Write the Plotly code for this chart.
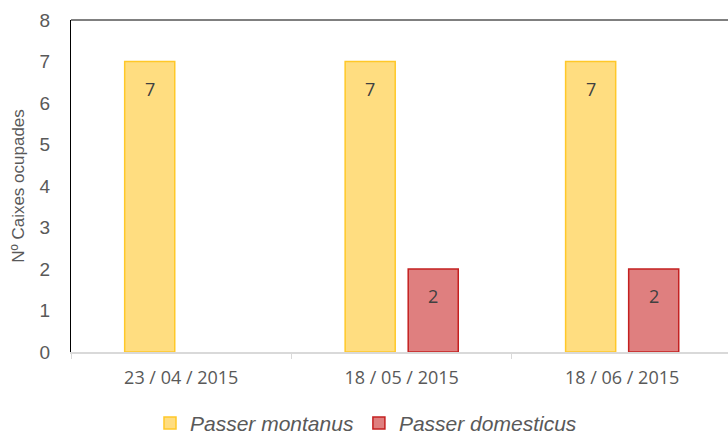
import plotly.graph_objects as go

categories = ["23 / 04 / 2015", "18 / 05 / 2015", "18 / 06 / 2015"]
montanus = [7, 7, 7]
domesticus = [None, 2, 2]
y_ticks = [0, 1, 2, 3, 4, 5, 6, 7, 8]

fig = go.Figure()
fig.add_trace(go.Bar(
    x=categories, y=montanus, name="Passer montanus",
    marker=dict(color="#FFDD80", line=dict(color="#FFC828", width=1.5)),
))
fig.add_trace(go.Bar(
    x=categories, y=domesticus, name="Passer domesticus",
    marker=dict(color="#DF7F7F", line=dict(color="#C42020", width=1.5)),
))

annotations = []
for series, shift in ((montanus, -31.5), (domesticus, 31.5)):
    for cat, val in zip(categories, series):
        if val is None:
            continue
        annotations.append(dict(x=cat, y=val, xref="x", yref="y", text=str(val), showarrow=False,
                                xshift=shift, yshift=-27, yanchor="middle",
                                font=dict(family="Open Sans", size=18, color="#404040")))

fig.update_layout(
    width=728, height=437,
    margin=dict(l=71, r=0, t=20, b=85, autoexpand=False),
    paper_bgcolor="white", plot_bgcolor="white",
    barmode="group", bargap=0.428, bargroupgap=0.206,
    font=dict(family="Liberation Sans", color="#595959"),
    legend=dict(orientation="h", x=0.449, xanchor="center", y=-0.215, yanchor="middle",
                font=dict(family="Liberation Sans", size=21, color="#595959", style="italic"),
                itemwidth=30, traceorder="normal"),
    xaxis=dict(range=[-0.5, 2.48], showline=True, linecolor="#D9D9D9", linewidth=2,
               ticks="outside", tickson="boundaries", ticklen=5, tickcolor="#D9D9D9",
               tickfont=dict(family="Open Sans", size=18, color="#595959"),
               ticklabelstandoff=8, showgrid=False, zeroline=False, automargin=False),
    yaxis=dict(range=[0, 8], tickvals=y_ticks, showline=True, linecolor="black", linewidth=1,
               showgrid=False, zeroline=False, ticks="", automargin=False,
               tickfont=dict(family="Liberation Sans", size=19, color="#595959"),
               ticklabelstandoff=16,
               title=dict(text="Nº Caixes ocupades", font=dict(family="Liberation Sans", size=17, color="#595959"),
                          standoff=10)),
    annotations=annotations,
    shapes=[dict(type="line", xref="paper", yref="paper", x0=0, x1=1, y0=1, y1=1,
                 line=dict(color="black", width=1))],
)

fig.write_html("out.html")
